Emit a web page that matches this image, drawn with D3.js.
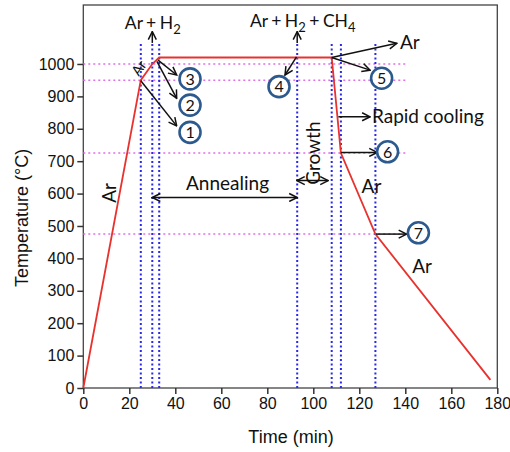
<!DOCTYPE html>
<html>
<head>
<meta charset="utf-8">
<script src="https://cdn.jsdelivr.net/npm/d3@7"></script>
<style>
  body { margin: 0; background: #fff; }
  svg text { fill: #111; }
</style>
</head>
<body>
<div id="chart"></div>
<script>
// temperature profile (min, degC)
var profile = [[0, 0], [25, 950], [30, 1000], [33, 1020], [108, 1020], [112, 725], [127, 475], [177, 25]];
var xTicks = [0, 20, 40, 60, 80, 100, 120, 140, 160, 180];
var yTicks = [0, 100, 200, 300, 400, 500, 600, 700, 800, 900, 1000];
var stageTimes = [25, 30, 33, 93, 108, 112, 127];
var stageTemps = [1000, 950, 725, 475];
var steps = [
  {n: "1", t: 46.4, v: 789}, {n: "2", t: 46.4, v: 873}, {n: "3", t: 46.4, v: 954},
  {n: "4", t: 85.1, v: 930}, {n: "5", t: 129.7, v: 956}, {n: "6", t: 132.3, v: 729},
  {n: "7", t: 145.7, v: 479}
];
// single arrows [from, to]
var arrows = [
  [[30, 1065], [30, 1100]], [[93, 1065], [93, 1100]],
  [[25, 948], [40.6, 809]], [[32, 1008], [40.6, 894]], [[32.5, 1012], [40.6, 966]],
  [[92.7, 1022], [87.7, 966]], [[108, 1020], [136.3, 1064]], [[108, 1020], [124.7, 981]],
  [[110.9, 837], [124.7, 837]], [[112, 727], [127.8, 727]], [[127.3, 475], [140.6, 475]]
];
var spans = [[[30, 588], [93, 588]], [[92.8, 640], [106.5, 640]]];
var labels = [
  {s: "Ar", t: 137.7, v: 1046, a: "start", r: 0},
  {s: "Rapid cooling", t: 125.5, v: 819, a: "start", r: 0},
  {s: "Ar", t: 121, v: 602, a: "start", r: 0},
  {s: "Ar", t: 143, v: 355, a: "start", r: 0},
  {s: "Annealing", t: 62.7, v: 611, a: "middle", r: 0},
  {s: "Ar", t: 11.2, v: 602, a: "middle", r: -90},
  {s: "Growth", t: 99.9, v: 725, a: "middle", r: -90},
  {s: "Ar", t: 24.2, v: 988, a: "middle", r: -55}
];
var gasLabels = [
  {parts: [["Ar + H", 0], ["2", 1]], t: 30.2, v: 1108},
  {parts: [["Ar + H", 0], ["2", 1], [" + CH", 0], ["4", 1]], t: 95.4, v: 1115}
];

var W = 510, H = 452;
var x = d3.scaleLinear().domain([0, 180]).range([83.3, 497.3]);
var y = d3.scaleLinear().domain([0, 1182]).range([388, 5]);
var annoFont = "Lato, 'Open Sans', sans-serif";
var axisFont = "Arial, 'Liberation Sans', sans-serif";

var svg = d3.select("#chart").append("svg").attr("width", W).attr("height", H);

var defs = svg.append("defs");
defs.append("marker").attr("id", "head")
  .attr("viewBox", "0 0 10 10").attr("refX", 9).attr("refY", 5)
  .attr("markerWidth", 10).attr("markerHeight", 10)
  .attr("markerUnits", "userSpaceOnUse").attr("orient", "auto-start-reverse")
  .append("path").attr("d", "M1,1 L9,5 L1,9")
  .attr("fill", "none").attr("stroke", "#111").attr("stroke-width", 1.5);

// frame
svg.append("rect").attr("x", x(0)).attr("y", y(1182))
  .attr("width", x(180) - x(0)).attr("height", y(0) - y(1182))
  .attr("fill", "none").attr("stroke", "#444").attr("stroke-width", 1.3);

// guides
svg.append("g").selectAll("line").data(stageTemps).join("line")
  .attr("x1", x(0)).attr("x2", x(141))
  .attr("y1", d => y(d)).attr("y2", d => y(d))
  .attr("stroke", "#e070e8").attr("stroke-width", 1.5).attr("stroke-dasharray", "2,3");
svg.append("g").selectAll("line").data(stageTimes).join("line")
  .attr("x1", d => x(d)).attr("x2", d => x(d))
  .attr("y1", y(0)).attr("y2", y(1065))
  .attr("stroke", "#2a2ae6").attr("stroke-width", 2).attr("stroke-dasharray", "2,2.5");

// axes
var xAxis = svg.append("g").attr("transform", "translate(0," + y(0) + ")")
  .call(d3.axisBottom(x).tickValues(xTicks).tickFormat(d3.format("d")).tickSize(6).tickPadding(4));
var yAxis = svg.append("g").attr("transform", "translate(" + x(0) + ",0)")
  .call(d3.axisLeft(y).tickValues(yTicks).tickFormat(d3.format("d")).tickSize(6).tickPadding(3));
[xAxis, yAxis].forEach(function(g) {
  g.attr("font-family", axisFont);
  g.select(".domain").remove();
  g.selectAll("line").attr("stroke", "#333").attr("stroke-width", 1.5);
  g.selectAll("text").attr("font-size", 16).attr("fill", "#111");
});
svg.append("text").attr("x", 291).attr("y", 443).attr("text-anchor", "middle")
  .attr("font-family", axisFont).attr("font-size", 18)
  .text("Time (min)");
svg.append("text").attr("transform", "translate(28,218) rotate(-90)")
  .attr("text-anchor", "middle")
  .attr("font-family", axisFont).attr("font-size", 18)
  .text("Temperature (°C)");

// profile
svg.append("path").datum(profile)
  .attr("d", d3.line().x(d => x(d[0])).y(d => y(d[1])))
  .attr("fill", "none").attr("stroke", "#e8322e").attr("stroke-width", 1.8);

// arrows
svg.append("g").selectAll("line").data(arrows).join("line")
  .attr("x1", d => x(d[0][0])).attr("y1", d => y(d[0][1]))
  .attr("x2", d => x(d[1][0])).attr("y2", d => y(d[1][1]))
  .attr("stroke", "#111").attr("stroke-width", 1.5).attr("marker-end", "url(#head)");
svg.append("g").selectAll("line").data(spans).join("line")
  .attr("x1", d => x(d[0][0])).attr("y1", d => y(d[0][1]))
  .attr("x2", d => x(d[1][0])).attr("y2", d => y(d[1][1]))
  .attr("stroke", "#111").attr("stroke-width", 1.5)
  .attr("marker-start", "url(#head)").attr("marker-end", "url(#head)");

// labels
svg.append("g").selectAll("text").data(labels).join("text")
  .attr("transform", d => "translate(" + x(d.t) + "," + y(d.v) + ") rotate(" + d.r + ")")
  .attr("text-anchor", d => d.a)
  .attr("dy", d => d.r ? "0.35em" : 0)
  .attr("font-family", annoFont).attr("font-size", d => d.r == -55 ? 14 : 19)
  .text(d => d.s);

var gas = svg.append("g").selectAll("text").data(gasLabels).join("text")
  .attr("x", d => x(d.t)).attr("y", d => y(d.v)).attr("text-anchor", "middle")
  .attr("font-family", annoFont).attr("font-size", 17.5).attr("word-spacing", -1);
gas.each(function(d) {
  var sel = d3.select(this), prev = 0;
  d.parts.forEach(function(p) {
    var sh = p[1] ? 5 : 0;
    sel.append("tspan").attr("dy", sh - prev).attr("font-size", p[1] ? 13 : 17.5).text(p[0]);
    prev = sh;
  });
});

// step markers
var st = svg.append("g").selectAll("g").data(steps).join("g")
  .attr("transform", d => "translate(" + x(d.t) + "," + y(d.v) + ")");
st.append("circle").attr("r", 10.5).attr("fill", "#fff")
  .attr("stroke", "#2d5a8e").attr("stroke-width", 2.6);
st.append("text").attr("text-anchor", "middle").attr("dy", "0.36em")
  .attr("font-family", annoFont).attr("font-size", 16).text(d => d.n);
</script>
</body>
</html>
